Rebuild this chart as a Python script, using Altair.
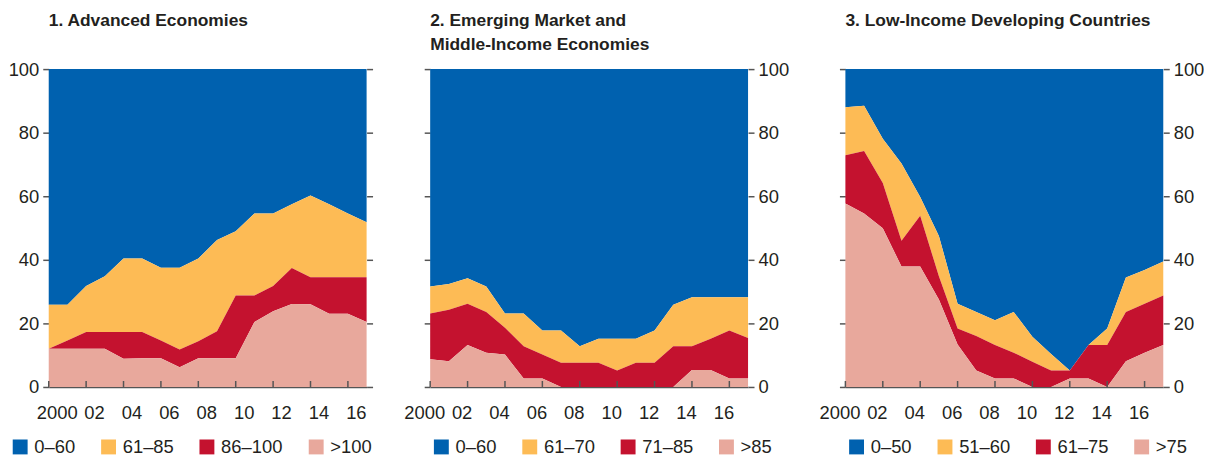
import altair as alt
import pandas as pd

years = list(range(2000, 2018))
tick_years = list(range(2000, 2018, 2))

colors = ["#0061AF", "#FDBB55", "#C4122F", "#E8A89C"]

# Panel 1: Advanced Economies
adv_cats = ["0–60", "61–85", "86–100", ">100"]
adv_blue = [74.1, 74.1, 68.2, 65.2, 59.6, 59.6, 62.5, 62.5, 59.6, 53.8, 51.0, 45.4, 45.4, 42.5, 39.8, 42.5, 45.4, 48.2]
adv_yellow = [13.9, 11.3, 14.5, 17.5, 23.1, 23.1, 22.9, 25.7, 26.0, 28.7, 20.2, 25.8, 22.8, 20.1, 25.7, 23.0, 20.1, 17.3]
adv_red = [0.0, 2.6, 5.3, 5.3, 8.4, 8.3, 5.6, 5.6, 5.4, 8.5, 19.8, 8.4, 8.0, 11.3, 8.5, 11.5, 11.5, 14.1]
adv_pink = [12.0, 12.0, 12.0, 12.0, 8.9, 9.0, 9.0, 6.2, 9.0, 9.0, 9.0, 20.4, 23.8, 26.1, 26.0, 23.0, 23.0, 20.4]

# Panel 2: Emerging Market and Middle-Income Economies
em_cats = ["0–60", "61–70", "71–85", ">85"]
em_blue = [68.4, 67.6, 65.8, 68.4, 76.9, 76.9, 82.2, 82.2, 87.2, 84.8, 84.8, 84.8, 82.2, 74.1, 71.8, 71.8, 71.8, 71.8]
em_yellow = [8.5, 8.1, 8.0, 8.0, 4.5, 10.3, 7.6, 10.2, 5.2, 7.6, 10.0, 7.6, 10.2, 13.1, 15.4, 13.0, 10.4, 12.8]
em_red = [14.4, 16.2, 13.0, 12.8, 8.4, 10.1, 7.5, 7.6, 7.6, 7.6, 5.2, 7.6, 7.6, 12.8, 7.5, 9.9, 15.1, 12.7]
em_pink = [8.7, 8.1, 13.2, 10.8, 10.2, 2.7, 2.7, 0.0, 0.0, 0.0, 0.0, 0.0, 0.0, 0.0, 5.3, 5.3, 2.7, 2.7]

# Panel 3: Low-Income Developing Countries
li_cats = ["0–50", "51–60", "61–75", ">75"]
li_blue = [12.0, 11.5, 21.9, 29.7, 40.2, 52.5, 73.8, 76.4, 79.0, 76.4, 84.2, 89.6, 94.8, 86.8, 81.6, 65.6, 63.2, 60.5]
li_yellow = [15.1, 14.3, 13.9, 24.3, 5.9, 12.7, 7.8, 7.6, 7.8, 12.8, 7.9, 5.2, 0.0, 0.0, 5.2, 10.8, 10.6, 10.7]
li_red = [15.2, 19.6, 14.3, 8.1, 16.0, 7.3, 5.0, 10.8, 10.5, 8.1, 7.9, 5.2, 2.5, 10.5, 13.2, 15.5, 15.4, 15.6]
li_pink = [57.7, 54.6, 49.9, 37.9, 37.9, 27.5, 13.4, 5.2, 2.7, 2.7, 0.0, 0.0, 2.7, 2.7, 0.0, 8.1, 10.8, 13.2]

LABEL_FONT = "Liberation Sans"
TITLE_FONT = "Liberation Sans"
TEXT = "#231F20"
AXIS = "#555555"
W = 320
H = 320


def make_df(cats, series):
    rows = []
    for ci, (cat, vals) in enumerate(zip(cats, series)):
        for y, v in zip(years, vals):
            rows.append({"year": y, "cat": cat, "value": v, "rank": 3 - ci})
    return pd.DataFrame(rows)


def y_axis(orient, labels):
    return alt.Axis(orient=orient, values=[0, 20, 40, 60, 80, 100], labels=labels,
                    title=None, domain=False, grid=False, ticks=True, tickSize=6,
                    tickColor=AXIS, tickWidth=1.5, labelFont=LABEL_FONT,
                    labelFontSize=18.5, labelColor=TEXT, labelPadding=4)


def x_axis(offset):
    return alt.Axis(values=tick_years, title=None, grid=False, ticks=False, tickSize=0,
                    domain=True, domainColor=AXIS, domainWidth=1.5,
                    labelExpr="datum.value == 2000 ? '2000' : substring(toString(datum.value), 2)",
                    labelFont=LABEL_FONT, labelFontSize=18.5, labelColor=TEXT,
                    labelPadding=17, labelOffset=offset, labelOverlap=False,
                    labelFlush=False, labelBound=False)


def panel(cats, series, title_lines, main_orient, xoff, legend_x):
    df = make_df(cats, series)
    xs = alt.Scale(domain=[2000, 2017], nice=False, zero=False)
    ys = alt.Scale(domain=[0, 100], nice=False)
    X = alt.X("year:Q", scale=xs, axis=x_axis(xoff))
    other = "right" if main_orient == "left" else "left"
    area = alt.Chart(df).mark_area(interpolate="linear", opacity=1).encode(
        x=X,
        y=alt.Y("value:Q", stack="zero", scale=ys, axis=y_axis(main_orient, True)),
        color=alt.Color("cat:N", scale=alt.Scale(domain=cats, range=colors),
                        legend=alt.Legend(orient="none", legendX=legend_x, legendY=371,
                                          direction="horizontal", title=None,
                                          symbolType="square", symbolSize=225,
                                          symbolStrokeWidth=0, symbolOpacity=1,
                                          labelFont=LABEL_FONT, labelFontSize=18.5,
                                          labelColor=TEXT, columnPadding=24,
                                          labelOffset=5, padding=0)),
        order=alt.Order("rank:Q", sort="ascending"),
    )
    axis2 = alt.Chart(df).mark_point(opacity=0).encode(
        x=X,
        y=alt.Y("value:Q", scale=ys, axis=y_axis(other, False)),
    )
    tdf = pd.DataFrame({"year": tick_years})
    ticks = alt.Chart(tdf).mark_rule(color=AXIS, strokeWidth=1.5).encode(
        x=X, y=alt.value(H), y2=alt.value(H - 6)
    )
    return alt.layer(area, axis2, ticks).resolve_axis(y="independent").properties(
        width=W, height=H,
        title=alt.TitleParams(text=title_lines, anchor="start", frame="group",
                              font=TITLE_FONT, fontSize=17.5, fontWeight="bold",
                              color=TEXT, baseline="alphabetic", lineHeight=24,
                              offset=-7),
    )


p1 = panel(adv_cats, [adv_blue, adv_yellow, adv_red, adv_pink],
           ["1. Advanced Economies", " "], "left", 8, -38)
p2 = panel(em_cats, [em_blue, em_yellow, em_red, em_pink],
           ["2. Emerging Market and", "\u00a0\u00a0\u00a0\u00a0\u2009Middle-Income Economies"],
           "right", -6, 2)
p3 = panel(li_cats, [li_blue, li_yellow, li_red, li_pink],
           ["3. Low-Income Developing Countries", " "], "right", -6, 2)

chart = alt.hconcat(p1, p2, p3, spacing=30).resolve_scale(
    color="independent"
).properties(
    padding={"left": 0, "top": 2, "right": 0, "bottom": 0}
).configure_view(stroke=None)

chart.save("out.html", embed_options={"renderer": "svg", "actions": False})
